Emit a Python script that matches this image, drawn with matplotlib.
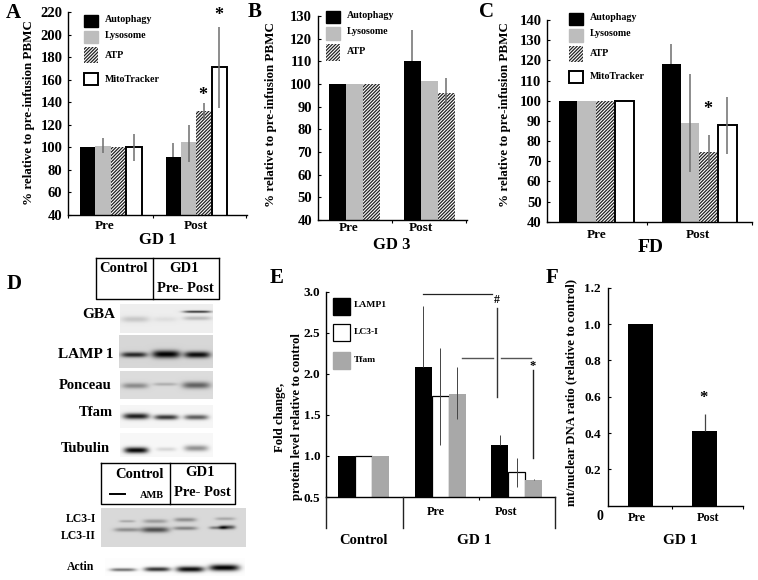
import numpy as np
import matplotlib
matplotlib.use("Agg")
import matplotlib.pyplot as plt
from matplotlib.patches import Rectangle

plt.rcParams['font.family'] = ['Liberation Serif', 'DejaVu Serif']
plt.rcParams['font.weight'] = 'bold'
plt.rcParams['hatch.linewidth'] = 0.9

W, H = 758, 580

# ---------- data ----------
groups_abc = ['Pre', 'Post']
series_a = ['Autophagy', 'Lysosome', 'ATP', 'MitoTracker']
a_vals = [[100, 91], [101, 104.5], [100, 132.5], [100, 171]]
a_low = [[100, 91], [95, 87], [100, 125], [88, 135]]
a_high = [[100, 104], [108, 120], [100, 139], [112, 207]]
a_ticks = [40, 60, 80, 100, 120, 140, 160, 180, 200, 220]

series_b = ['Autophagy', 'Lysosome', 'ATP']
b_vals = [[100, 110], [100, 101.5], [100, 96]]
b_low = [[100, 110], [100, 101.5], [100, 91]]
b_high = [[100, 124], [100, 101.5], [100, 102.5]]
b_ticks = [40, 50, 60, 70, 80, 90, 100, 110, 120, 130]

series_c = ['Autophagy', 'Lysosome', 'ATP', 'MitoTracker']
c_vals = [[100, 118], [100, 89], [100, 74.5], [100, 88]]
c_low = [[100, 118], [100, 64.5], [100, 67], [100, 73.5]]
c_high = [[100, 128], [100, 113], [100, 83], [100, 102]]
c_ticks = [40, 50, 60, 70, 80, 90, 100, 110, 120, 130, 140]

series_e = ['LAMP1', 'LC3-I', 'Tfam']
e_groups = ['Control', 'Pre', 'Post']
e_vals = [[1.0, 2.08, 1.13], [1.0, 1.73, 0.80], [1.0, 1.76, 0.71]]
e_low = [[1.0, 2.08, 1.13], [1.0, 1.13, 0.62], [1.0, 1.45, 0.71]]
e_high = [[1.0, 2.83, 1.26], [1.0, 2.32, 0.98], [1.0, 2.08, 0.715]]
e_ticks = [0.5, 1.0, 1.5, 2.0, 2.5, 3.0]

f_groups = ['Pre', 'Post']
f_vals = [1.0, 0.41]
f_high = [1.0, 0.505]
f_ticks = [0.2, 0.4, 0.6, 0.8, 1.0, 1.2]

# ---------- figure ----------
fig = plt.figure(figsize=(W / 100, H / 100), dpi=100, facecolor='white')
ov = fig.add_axes([0, 0, 1, 1], zorder=5)
ov.set_xlim(0, W)
ov.set_ylim(H, 0)
ov.axis('off')
ov.patch.set_alpha(0)

STY = {
    'Autophagy': dict(color='black'),
    'LAMP1': dict(color='black'),
    'Lysosome': dict(color='#bdbdbd'),
    'Tfam': dict(color='#a8a8a8'),
    'ATP': dict(facecolor='white', edgecolor='#222222', hatch='/' * 10, linewidth=0),
    'MitoTracker': dict(facecolor='white', edgecolor='black', linewidth=1.4),
    'LC3-I': dict(facecolor='white', edgecolor='black', linewidth=0.9),
}


def px_axes(l, r, t, b):
    ax = fig.add_axes([l / W, 1 - b / H, (r - l) / W, (b - t) / H])
    ax.set_xlim(l, r)
    ax.patch.set_alpha(0)
    for s in ('top', 'right'):
        ax.spines[s].set_visible(False)
    for s in ('left', 'bottom'):
        ax.spines[s].set_linewidth(1.0)
    return ax


def bars(ax, names, vals, low, high, starts, width, ecolor='#6e6e6e', elw=1.1):
    for i, name in enumerate(names):
        xs = [s + (i + 0.5) * width for s in starts]
        ax.bar(xs, vals[i], width=width, bottom=0, zorder=2, **STY[name])
        v = np.array(vals[i], float)
        err = [v - np.array(low[i], float), np.array(high[i], float) - v]
        ax.errorbar(xs, v, yerr=err, fmt='none', ecolor=ecolor, elinewidth=elw,
                    capsize=0, zorder=3)


def yfmt(ax, ylim, ticks, fmt='{:d}', size=10, pad=3):
    ax.set_ylim(*ylim)
    ax.set_yticks(ticks, [fmt.format(t) for t in ticks], fontsize=size, fontweight='bold')
    ax.tick_params(axis='y', direction='in', length=2.5, width=0.8, pad=pad)
    ax.tick_params(axis='x', direction='out', length=2.5, width=0.8, labelbottom=False)


def legend(names, patches, labels_y, lab_x, size=7.2):
    for n, (x0, x1, y0, y1), ly in zip(names, patches, labels_y):
        ov.add_patch(Rectangle((x0, y0), x1 - x0, y1 - y0, **STY[n]))
        ov.text(lab_x, ly, n, fontsize=size, va='center', ha='left')


def t(x, y, s, size=9, ha='center', va='center', **kw):
    ov.text(x, y, s, fontsize=size, ha=ha, va=va, **kw)


YL = '% relative to pre-infusion PBMC'

# ---------- Panel A ----------
ax = px_axes(68, 247, 12, 214.7)
bars(ax, series_a, a_vals, a_low, a_high, [80, 165.5], 15.4)
yfmt(ax, (40, 220), a_ticks, size=10.5, pad=4)
ax.set_xticks([68, 153, 246])
legend(series_a, [(84, 98, 14.7, 26.7), (84, 98, 31, 43), (84, 98, 47, 63), (84, 98, 73, 85)],
       [20, 36, 55, 79], 105)
t(29, 113, YL, 9.4, rotation=90)
t(105, 226, groups_abc[0], 9.5)
t(196, 226, groups_abc[1], 9.5)
t(158, 240, 'GD 1', 12)
t(203, 95, '*', 13)
t(219, 15, '*', 13)

# ---------- Panel B ----------
ax = px_axes(317.7, 467, 16, 220)
bars(ax, series_b, b_vals, b_low, b_high, [329, 404], 17)
yfmt(ax, (40, 130), b_ticks, size=10.5, pad=4)
ax.set_xticks([392, 466.5])
legend(series_b, [(326, 340, 10.7, 23), (326, 340, 27, 40), (326, 340, 44, 60.7)],
       [16, 32, 51], 347)
t(270.7, 115, YL, 9.4, rotation=90)
t(349, 228, groups_abc[0], 9.5)
t(421, 228, groups_abc[1], 9.5)
t(392, 245, 'GD 3', 12)

# ---------- Panel C ----------
ax = px_axes(547, 752, 20, 221.7)
bars(ax, series_c, c_vals, c_low, c_high, [558.7, 662], 18.7)
yfmt(ax, (40, 140), c_ticks, size=10.5, pad=4)
ax.set_xticks([647, 751.5])
legend(series_c, [(569, 583, 12.7, 25), (569, 583, 29, 41.7), (569, 583, 46, 62), (569, 583, 71, 83)],
       [18, 34, 53, 76.7], 589.7)
t(505, 115, YL, 9.4, rotation=90)
t(597, 235, groups_abc[0], 9.5)
t(698, 235, groups_abc[1], 9.5)
t(651, 247, 'FD', 14)
t(708, 110, '*', 13)

# ---------- Panel E ----------
ax = px_axes(325.7, 555, 291.7, 497)
bars(ax, series_e, e_vals, e_low, e_high, [338, 414.7, 491], 17, ecolor='#444444', elw=0.7)
yfmt(ax, (0.5, 3.0), e_ticks, fmt='{:.1f}', size=9.5, pad=4)
ax.set_xticks([478.7])
legend(series_e, [(333, 350, 298, 314.7), (333, 350, 324, 340.7), (333, 350, 351.7, 368.7)],
       [305, 332, 360], 354, size=6.8)
t(280, 417, 'Fold change,', 9.2, rotation=90)
t(297, 417, 'protein level relative to control', 9.2, rotation=90)
t(436, 512, e_groups[1], 8.8)
t(506, 512, e_groups[2], 8.8)
t(363, 540, e_groups[0], 10.5)
t(474, 540, 'GD 1', 11)
for x in (325.7, 402.5, 555):
    ov.plot([x, x], [497, 528], color='#222222', lw=1.0)
ov.plot([423, 492], [294, 294], color='#222222', lw=0.9)
t(497, 300, '#', 8.5)
ov.plot([497, 497], [307.7, 396.7], color='#333333', lw=1.0)
ov.plot([461.7, 493.3], [358, 358], color='#555555', lw=1.0)
ov.plot([501, 530.7], [358, 358], color='#555555', lw=1.0)
t(532.7, 366, '*', 9)
ov.plot([533, 533], [370, 458], color='#222222', lw=1.0)

# ---------- Panel F ----------
ax = px_axes(608, 743, 287.7, 505.7)
xs_f = [640.5, 704.5]
ax.bar(xs_f, f_vals, width=25.6, color='black', zorder=2)
ax.errorbar(xs_f, f_vals, yerr=[[0, 0], np.array(f_high) - np.array(f_vals)], fmt='none',
            ecolor='#444444', elinewidth=0.9, zorder=3)
yfmt(ax, (0, 1.2), f_ticks, fmt='{:.1f}', size=9.5, pad=5)
ax.set_xticks([672, 742.5])
t(571, 393, 'mt/nuclear DNA ratio (relative to control)', 9.2, rotation=90)
t(600, 516, '0', 10)
t(637, 518, f_groups[0], 8.8)
t(708, 518, f_groups[1], 8.8)
t(680, 540, 'GD 1', 11)
t(703, 398, '*', 12)

# ---------- Panel letters ----------
for x, y, s in [(13, 13, 'A'), (255, 12, 'B'), (486, 12, 'C'), (14, 284, 'D'), (277, 278, 'E'), (552, 278, 'F')]:
    t(x, y, s, 15)

# ---------- Panel D (blots) ----------
blot_gba = [(135, 319, 14, 3, .15), (165, 319, 12, 2.5, .06), (197, 311.5, 14, 1.1, .75), (197, 318, 14, 2, .2)]
blot_lamp = [(134, 354.5, 13, 2.6, .7), (166, 354, 14, 3.8, .85), (197, 354.5, 13, 3.2, .8)]
blot_ponceau = [(135, 385.5, 13, 2.8, .32), (165, 384, 12, 1.6, .18), (196, 385, 14, 3.4, .48)]
blot_tfam = [(136, 416, 13, 3, .85), (166, 417, 12, 2.5, .75), (196, 417, 12, 2.5, .6)]
blot_tub = [(136, 450, 12, 3, .95), (166, 449, 10, 2, .13), (196, 448, 12, 3, .4)]
blot_lc3 = [(127, 521, 8, 1.2, .2), (127, 529.5, 13, 2, .3), (155, 521, 12, 2, .25), (155, 529.5, 14, 2.8, .55),
            (185, 519.5, 11, 2, .3), (185, 528, 12, 1.8, .35), (225, 518.5, 10, 1.5, .2), (218, 527.5, 9, 1.5, .4),
            (227, 527, 8, 2, .55)]
blot_actin = [(123, 569.5, 13, 1.6, .55), (157, 569, 13, 2.2, .8), (190, 569, 14, 2.8, .95), (224, 567.5, 15, 3.2, 1.0)]


def blot(box, bg, bands):
    x0, x1, y0, y1 = box
    xx, yy = np.meshgrid(np.arange(x0, x1, 0.5), np.arange(y0, y1, 0.5))
    img = np.full(xx.shape, bg, float)
    for bx, by, hw, sy, d in bands:
        img -= d * np.exp(-((xx - bx) / hw) ** 4) * np.exp(-((yy - by) / sy) ** 2)
    ov.imshow(np.clip(img, 0, 1), cmap='gray', vmin=0, vmax=1, extent=(x0, x1, y1, y0),
              aspect='auto', interpolation='bilinear', zorder=1)


blot((120, 213, 304, 333), .93, blot_gba)
blot((119, 213, 335, 368), .84, blot_lamp)
blot((120, 213, 371, 399), .86, blot_ponceau)
blot((120, 213, 405, 428), .96, blot_tfam)
blot((120, 213, 433, 457), .97, blot_tub)
blot((101, 246, 508, 547), .85, blot_lc3)
blot((105, 245, 558, 576), .99, blot_actin)
ov.set_xlim(0, W)
ov.set_ylim(H, 0)

for s, x, y, size in [('GBA', 115, 315, 11), ('LAMP 1', 113, 355, 11), ('Ponceau', 111, 385.5, 10.5),
                      ('Tfam', 113, 412, 10.5), ('Tubulin', 110, 448, 10.5), ('LC3-I', 96, 519, 8.5),
                      ('LC3-II', 96, 536, 8.5), ('Actin', 94, 567, 8.5)]:
    t(x, y, s, size, ha='right')

# header boxes
for xs, ys in [([96, 96, 219, 219], [258, 299, 299, 258]), ([96, 219], [258, 258]), ([153, 153], [258, 299]),
               ([101, 101, 235, 235, 101], [463, 504, 504, 463, 463]), ([170, 170], [463, 504])]:
    ov.plot(xs, ys, color='black', lw=1.0, zorder=2)
ov.plot([110, 125], [494, 494], color='black', lw=1.4)
t(123, 269, 'Control', 10.5)
t(184, 269, 'GD1', 10.5)
t(185, 288, 'Pre- Post', 10.5)
t(140, 474, 'Control', 10.5)
t(200, 473, 'GD1', 10.5)
t(202, 493, 'Pre- Post', 10.5)
t(152, 495, 'AMB', 7.5)

ov.set_xlim(0, W)
ov.set_ylim(H, 0)
fig.savefig('out.png', dpi=100)
